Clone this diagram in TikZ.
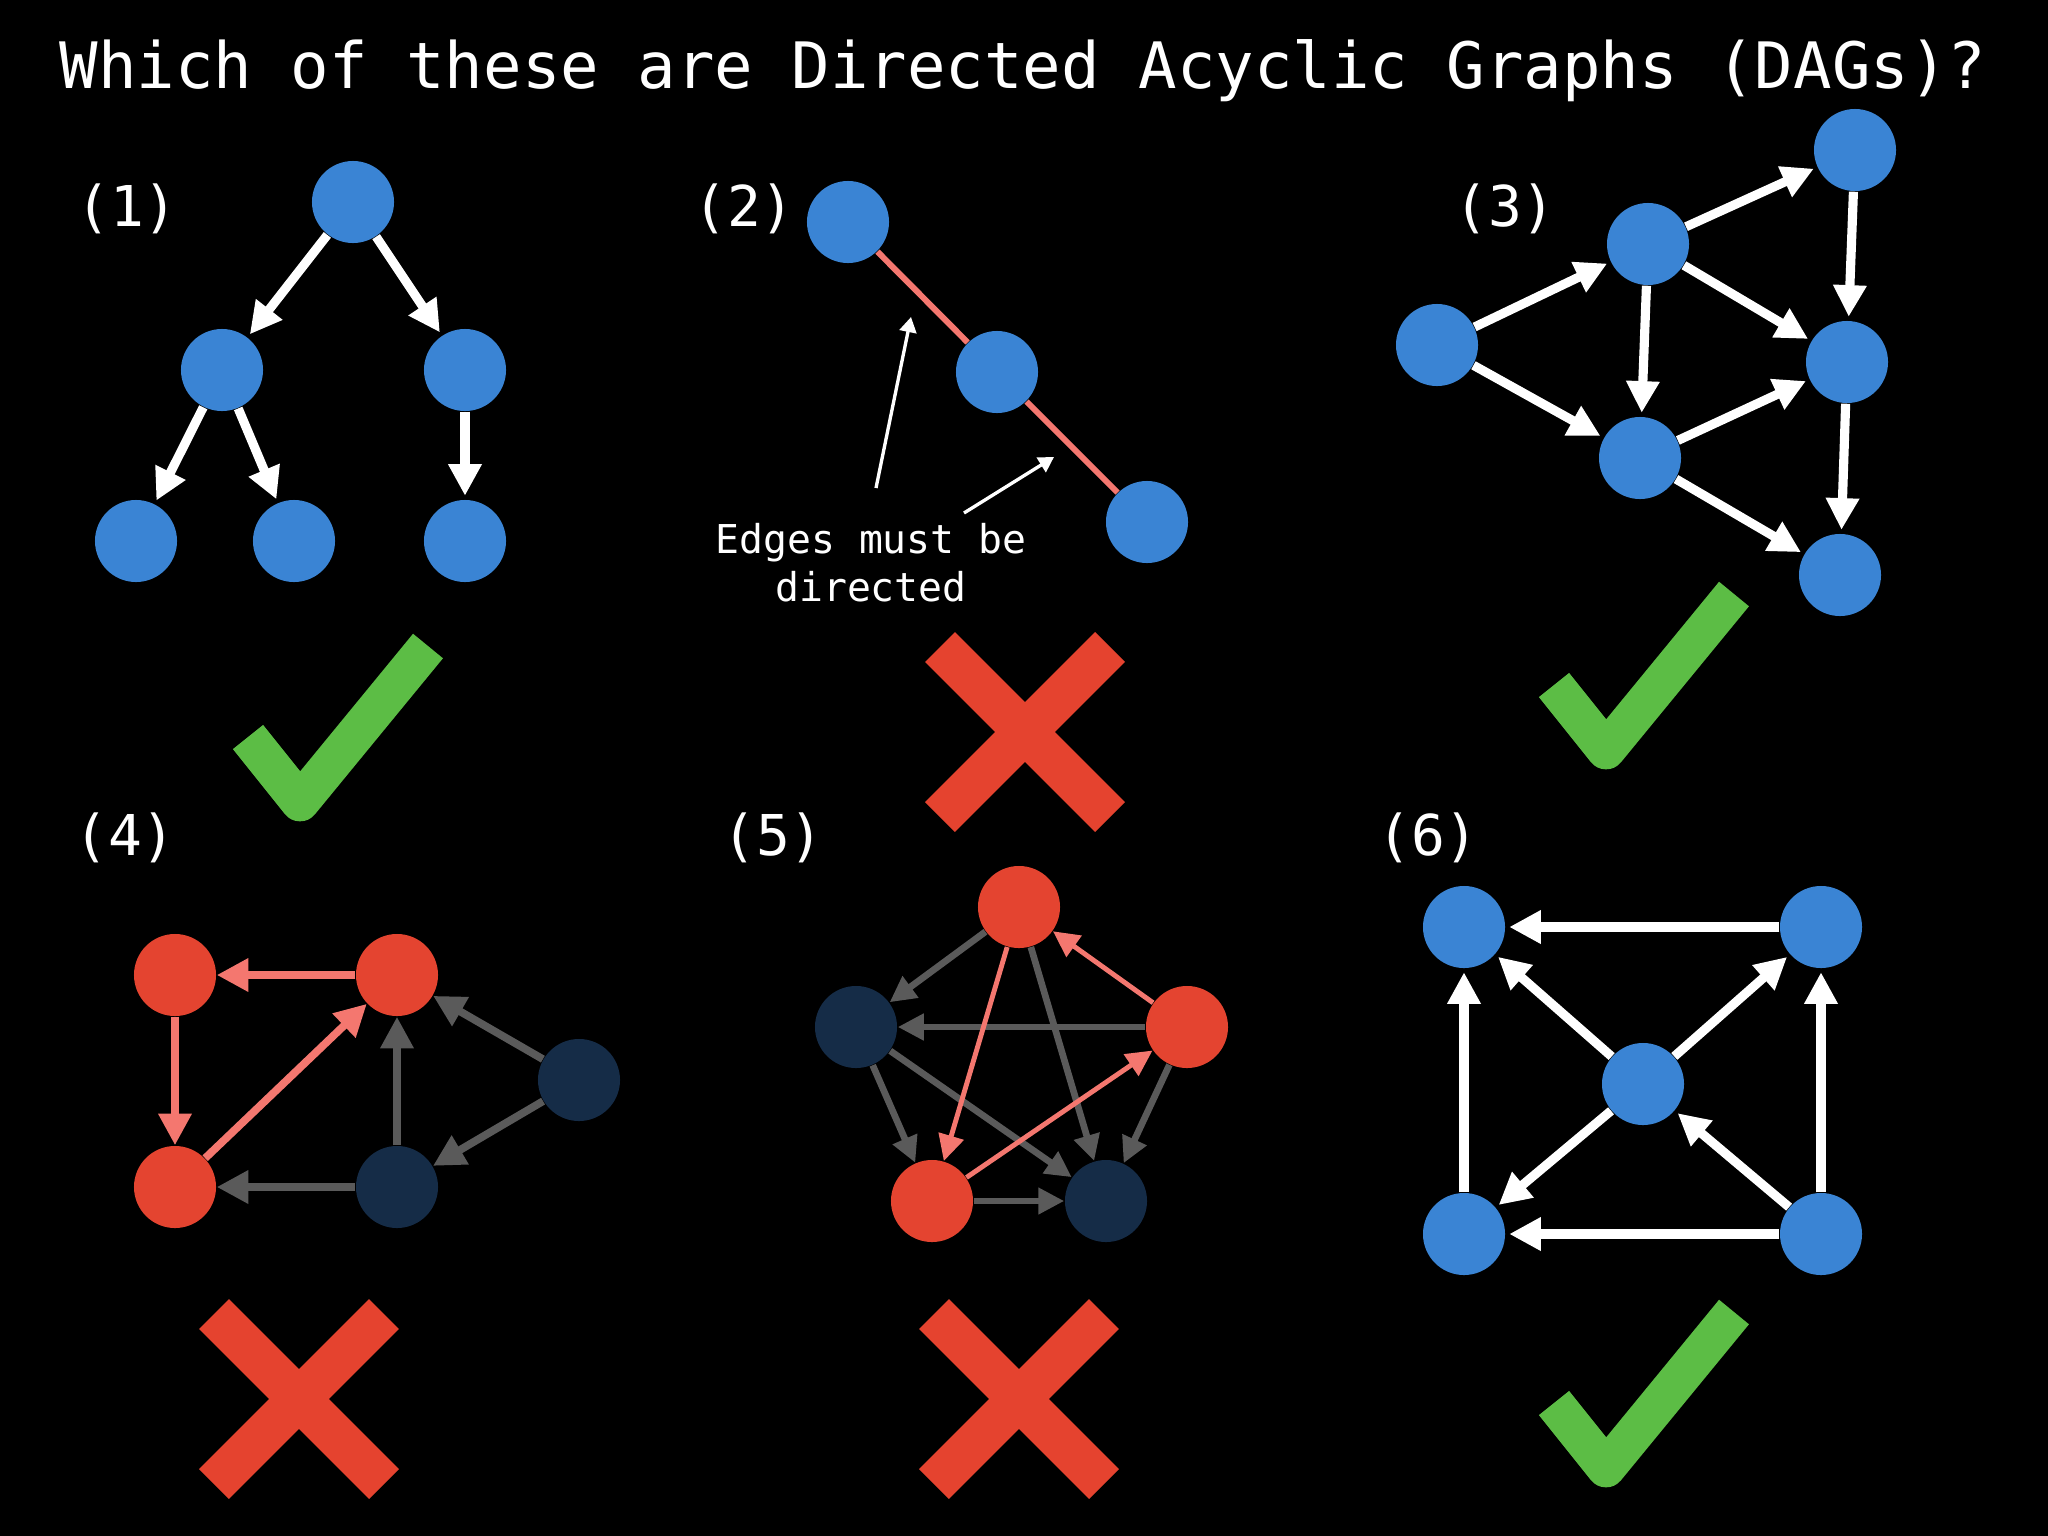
\documentclass[tikz,border=0pt]{standalone}
\usepackage{fontspec}
\setmonofont{DejaVu Sans Mono}
\usetikzlibrary{arrows.meta, positioning}
\definecolor{nodeblue}{HTML}{3A84D4}
\definecolor{nodered}{HTML}{E44430}
\definecolor{nodenavy}{HTML}{152C47}
\definecolor{salmon}{HTML}{F4776F}
\definecolor{edgegrey}{HTML}{5A5A5A}
\definecolor{tickgreen}{HTML}{5CBD45}
\definecolor{crossred}{HTML}{E5432F}

\tikzset{
  vtx/.style={circle, inner sep=0pt, minimum size=0.82cm},
  bluevtx/.style={vtx, fill=nodeblue},
  redvtx/.style={vtx, fill=nodered},
  navyvtx/.style={vtx, fill=nodenavy},
  whiteedge/.style={white, line width=2.6pt, shorten >=1pt, -{Triangle[length=9pt, width=9pt]}},
  cycleedge/.style={salmon, line width=2.2pt, -{Triangle[length=9pt, width=9pt]}},
  greyedge/.style={edgegrey, line width=2.2pt, -{Triangle[length=9pt, width=9pt]}},
  thinhead/.style={-{Triangle[length=7.4pt, width=7.2pt]}},
  plainedge/.style={salmon, line width=1.7pt},
  note/.style={white, line width=0.95pt, -{Triangle[length=4.3pt, width=4.8pt]}},
  tick/.style={tickgreen, line width=11pt, line join=round},
  cross/.style={crossred, line width=12pt},
  panel/.style={text=white, font=\ttfamily\fontsize{16}{19}\selectfont},
}

\begin{document}
\begin{tikzpicture}[x=0.01cm, y=-0.01cm]
  \useasboundingbox (0,0) rectangle (2048,1536);
  \fill[black] (0,0) rectangle (2048,1536);

  \node[anchor=base, text=white, font=\ttfamily\fontsize{18.2}{22}\selectfont] (title) at (1023,88) {Which of these are Directed Acyclic Graphs (DAGs)?};

  % (1) tree
  \node[panel] (lab1) at (127,209) {(1)};
  \node[bluevtx] (r1) at (353,202) {};
  \node[bluevtx] (a1) at (222,370) {};
  \node[bluevtx] (b1) at (465,370) {};
  \node[bluevtx] (c1) at (136,541) {};
  \node[bluevtx] (d1) at (294,541) {};
  \node[bluevtx] (e1) at (465,541) {};
  \draw[whiteedge] (r1) -- (a1);
  \draw[whiteedge] (r1) -- (b1);
  \draw[whiteedge] (a1) -- (c1);
  \draw[whiteedge] (a1) -- (d1);
  \draw[whiteedge] (b1) -- (e1);
  \draw[tick] (248,737) -- (300,802) -- (428,646);

  % (2) undirected
  \node[panel] (lab2) at (744,209) {(2)};
  \node[bluevtx] (a2) at (848,222) {};
  \node[bluevtx] (b2) at (997,372) {};
  \node[bluevtx] (c2) at (1147,522) {};
  \draw[plainedge] (a2) -- (b2);
  \draw[plainedge] (b2) -- (c2);
  \node[white, align=center, font=\ttfamily\fontsize{11.3}{13.6}\selectfont] (undir) at (871,563) {Edges must be\\directed};
  \coordinate (p1) at (876,488);
  \coordinate (q1) at (911,317);
  \coordinate (p2) at (964,513);
  \coordinate (q2) at (1054,457);
  \draw[note] (p1) -- (q1);
  \draw[note] (p2) -- (q2);
  \draw[cross] (940,647) -- (1110,817);
  \draw[cross] (1110,647) -- (940,817);

  % (3)
  \node[panel] (lab3) at (1505,209) {(3)};
  \node[bluevtx] (a3) at (1437,345) {};
  \node[bluevtx] (b3) at (1648,244) {};
  \node[bluevtx] (c3) at (1855,150) {};
  \node[bluevtx] (d3) at (1847,362) {};
  \node[bluevtx] (e3) at (1640,458) {};
  \node[bluevtx] (f3) at (1840,575) {};
  \draw[whiteedge] (a3) -- (b3);
  \draw[whiteedge] (a3) -- (e3);
  \draw[whiteedge] (b3) -- (c3);
  \draw[whiteedge] (b3) -- (d3);
  \draw[whiteedge] (b3) -- (e3);
  \draw[whiteedge] (e3) -- (d3);
  \draw[whiteedge] (e3) -- (f3);
  \draw[whiteedge] (c3) -- (d3);
  \draw[whiteedge] (d3) -- (f3);
  \draw[tick] (1554,685) -- (1606,750) -- (1734,594);

  % (4) cycle
  \node[panel] (lab4) at (125,838) {(4)};
  \node[redvtx] (a4) at (175,975) {};
  \node[redvtx] (b4) at (397,975) {};
  \node[redvtx] (c4) at (175,1187) {};
  \node[navyvtx] (d4) at (397,1187) {};
  \node[navyvtx] (e4) at (579,1080) {};
  \draw[cycleedge] (b4) -- (a4);
  \draw[cycleedge] (a4) -- (c4);
  \draw[cycleedge] (c4) -- (b4);
  \draw[greyedge] (d4) -- (c4);
  \draw[greyedge] (d4) -- (b4);
  \draw[greyedge] (e4) -- (b4);
  \draw[greyedge] (e4) -- (d4);
  \draw[cross] (214,1314) -- (384,1484);
  \draw[cross] (384,1314) -- (214,1484);

  % (5) pentagon
  \node[panel] (lab5) at (773,838) {(5)};
  \node[redvtx] (a5) at (1019,907) {};
  \node[navyvtx] (b5) at (856,1027) {};
  \node[redvtx] (c5) at (1187,1027) {};
  \node[redvtx] (d5) at (932,1201) {};
  \node[navyvtx] (e5) at (1106,1201) {};
  \draw[greyedge, thinhead, line width=1.9pt] (a5) -- (b5);
  \draw[greyedge, thinhead, line width=1.9pt] (a5) -- (e5);
  \draw[greyedge, thinhead, line width=1.9pt] (c5) -- (b5);
  \draw[greyedge, thinhead, line width=1.9pt] (c5) -- (e5);
  \draw[greyedge, thinhead, line width=1.9pt] (b5) -- (d5);
  \draw[greyedge, thinhead, line width=1.9pt] (b5) -- (e5);
  \draw[greyedge, thinhead, line width=1.9pt] (d5) -- (e5);
  \draw[cycleedge, thinhead, line width=1.4pt] (a5) -- (d5);
  \draw[cycleedge, thinhead, line width=1.4pt] (d5) -- (c5);
  \draw[cycleedge, thinhead, line width=1.4pt] (c5) -- (a5);
  \draw[cross] (934,1314) -- (1104,1484);
  \draw[cross] (1104,1314) -- (934,1484);

  % (6) square
  \node[panel] (lab6) at (1428,838) {(6)};
  \node[bluevtx] (a6) at (1464,927) {};
  \node[bluevtx] (b6) at (1821,927) {};
  \node[bluevtx] (c6) at (1643,1084) {};
  \node[bluevtx] (d6) at (1464,1234) {};
  \node[bluevtx] (e6) at (1821,1234) {};
  \draw[whiteedge] (b6) -- (a6);
  \draw[whiteedge] (c6) -- (a6);
  \draw[whiteedge] (c6) -- (b6);
  \draw[whiteedge] (c6) -- (d6);
  \draw[whiteedge] (e6) -- (c6);
  \draw[whiteedge] (e6) -- (d6);
  \draw[whiteedge] (d6) -- (a6);
  \draw[whiteedge] (e6) -- (b6);
  \draw[tick] (1554,1403) -- (1606,1468) -- (1734,1312);
\end{tikzpicture}
\end{document}
